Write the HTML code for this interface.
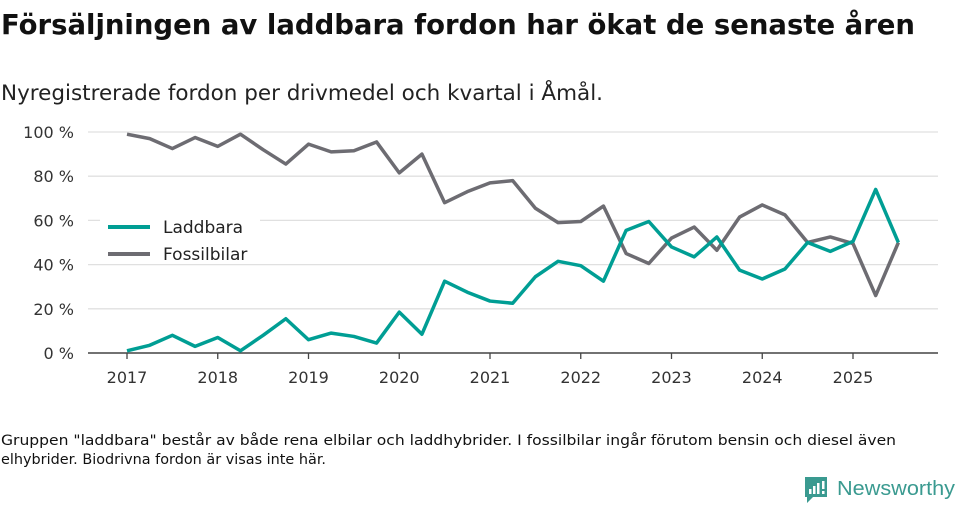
<!DOCTYPE html>
<html><head><meta charset="utf-8"><style>
html,body{margin:0;padding:0;background:#fff;}
svg{display:block;font-family:"DejaVu Sans","Liberation Sans",sans-serif;}
</style></head><body>
<svg id="c" width="960" height="505" viewBox="0 0 960 505">
<text x="1" y="34" font-size="28" font-weight="bold" fill="#111" textLength="914" lengthAdjust="spacingAndGlyphs">Försäljningen av laddbara fordon har ökat de senaste åren</text>
<text x="1" y="100" font-size="21" fill="#222" textLength="602" lengthAdjust="spacingAndGlyphs">Nyregistrerade fordon per drivmedel och kvartal i Åmål.</text>
<g id="grid"></g><g id="lines"></g>
<g>
<rect x="100" y="217" width="160" height="46" fill="#fff"/>
<line x1="108" y1="227" x2="150" y2="227" stroke="#009e94" stroke-width="4"/>
<text x="163" y="233" font-size="17" fill="#222">Laddbara</text>
<line x1="108" y1="254" x2="150" y2="254" stroke="#6d6c72" stroke-width="4"/>
<text x="163" y="260" font-size="17" fill="#222">Fossilbilar</text>
</g>
<text x="1" y="445" font-size="14" fill="#111" textLength="895" lengthAdjust="spacingAndGlyphs">Gruppen "laddbara" består av både rena elbilar och laddhybrider. I fossilbilar ingår förutom bensin och diesel även</text>
<text x="1" y="464" font-size="14" fill="#111" textLength="325" lengthAdjust="spacingAndGlyphs">elhybrider. Biodrivna fordon är visas inte här.</text>
<g>
<path d="M805 477 h22 v20 h-14 l-6 6 v-6 h-2 z" fill="#3a9a90"/>
<rect x="809" y="489" width="2.5" height="5" fill="#fff"/><rect x="813" y="486" width="2.5" height="8" fill="#fff"/><rect x="817" y="483" width="2.5" height="11" fill="#fff"/><rect x="822" y="481" width="2.5" height="8" fill="#fff"/><rect x="822" y="491" width="2.5" height="3" fill="#fff"/>
<text x="837" y="495" font-size="20" fill="#3a9a90" font-family="Liberation Sans, sans-serif" textLength="118" lengthAdjust="spacingAndGlyphs">Newsworthy</text>
</g>
</svg>
<script>
const years = [2017,2018,2019,2020,2021,2022,2023,2024,2025];
const yTicks = [0,20,40,60,80,100];
const laddbara = [1,3.5,8,3,7,1,8,15.5,6,9,7.5,4.5,18.5,8.5,32.5,27.5,23.5,22.5,34.5,41.5,39.5,32.5,55.5,59.5,48,43.5,52.5,37.5,33.5,38,50,46,50.5,74,50];
const fossilbilar = [99,97,92.5,97.5,93.5,99,92,85.5,94.5,91,91.5,95.5,81.5,90,68,73,77,78,65.5,59,59.5,66.5,45,40.5,52,57,46.5,61.5,67,62.5,50,52.5,49.5,26,50];
const NS="http://www.w3.org/2000/svg";
const X0=127, YW=90.75, Y0=353, PY=2.21;
const xq=i=>X0+i*YW/4, xy=yr=>X0+(yr-2017)*YW, yv=v=>Y0-v*PY;
const grid=document.getElementById('grid'), lines=document.getElementById('lines');
function mk(tag,attrs,parent){const e=document.createElementNS(NS,tag);for(const k in attrs)e.setAttribute(k,attrs[k]);parent.appendChild(e);return e;}
yTicks.forEach(t=>{
  if(t>0){const g=mk('line',{x1:88,x2:938,y1:yv(t),y2:yv(t),stroke:'#e0e0e0','stroke-width':1.3},grid);
  
  }
  const l=mk('text',{x:74,y:yv(t)+6,'font-size':16,fill:'#333','text-anchor':'end'},grid);
  l.textContent=t+' %';
  
  
});
const ax=mk('line',{x1:88,x2:938,y1:Y0,y2:Y0,stroke:'#444','stroke-width':1.5},grid);


years.forEach(yr=>{
  mk('line',{x1:xy(yr),x2:xy(yr),y1:Y0,y2:Y0+6,stroke:'#444','stroke-width':1.3},grid);
  const l=mk('text',{x:xy(yr),y:Y0+30,'font-size':16,fill:'#333','text-anchor':'middle'},grid);
  l.textContent=yr;
  
  
});
function series(arr,color,name){
  const p=mk('polyline',{points:arr.map((v,i)=>xq(i)+','+yv(v)).join(' '),fill:'none',stroke:color,'stroke-width':3.5,'stroke-linejoin':'round'},lines);
  
  
}
series(fossilbilar,'#6d6c72','line-fossilbilar');
series(laddbara,'#009e94','line-laddbara');
</script>
</body></html>
